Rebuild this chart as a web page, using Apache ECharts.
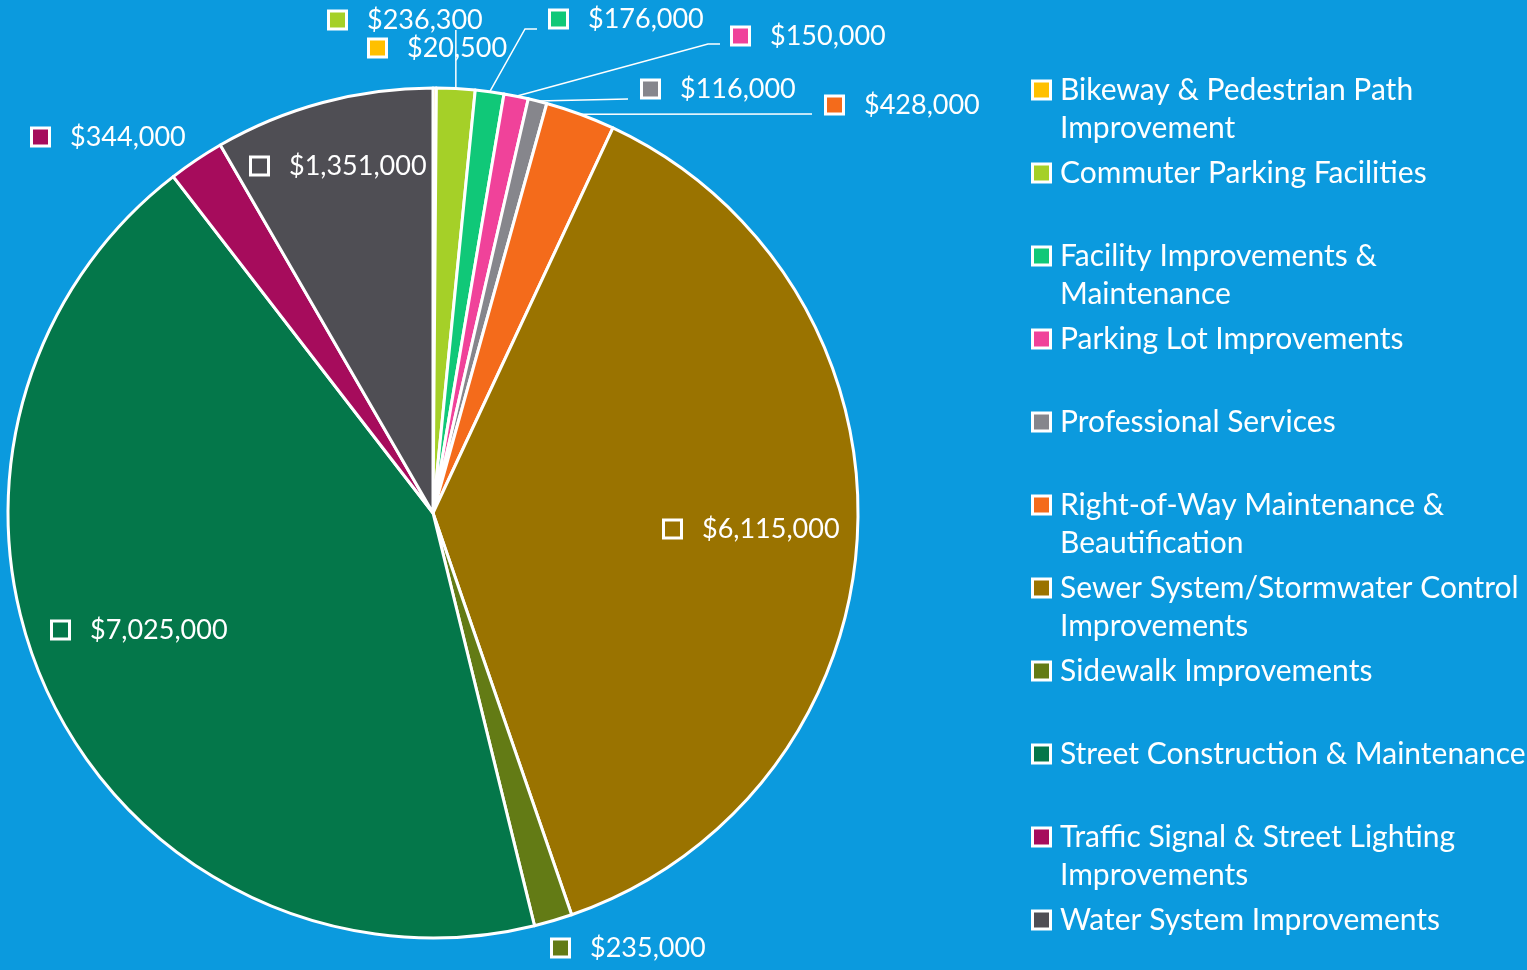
<!DOCTYPE html>
<html>
<head>
<meta charset="utf-8">
<script src="https://cdn.jsdelivr.net/npm/echarts@6/dist/echarts.min.js"></script>
<style>
  html, body { margin: 0; padding: 0; background: #0b9ade; }
  #echart { width: 1527px; height: 970px; }
</style>
</head>
<body>
<div id="echart"></div>
<script>
// chart data
var categories = [
  'Bikeway & Pedestrian Path Improvement',
  'Commuter Parking Facilities',
  'Facility Improvements & Maintenance',
  'Parking Lot Improvements',
  'Professional Services',
  'Right-of-Way Maintenance & Beautification',
  'Sewer System/Stormwater Control Improvements',
  'Sidewalk Improvements',
  'Street Construction & Maintenance',
  'Traffic Signal & Street Lighting Improvements',
  'Water System Improvements'
];
var values = [20500, 236300, 176000, 150000, 116000, 428000, 6115000, 235000, 7025000, 344000, 1351000];
// legend line breaks, as in the picture
var legendLines = [
  ['Bikeway & Pedestrian Path', 'Improvement'],
  ['Commuter Parking Facilities', ''],
  ['Facility Improvements &', 'Maintenance'],
  ['Parking Lot Improvements', ''],
  ['Professional Services', ''],
  ['Right-of-Way Maintenance &', 'Beautification'],
  ['Sewer System/Stormwater Control', 'Improvements'],
  ['Sidewalk Improvements', ''],
  ['Street Construction & Maintenance', ''],
  ['Traffic Signal & Street Lighting', 'Improvements'],
  ['Water System Improvements', '']
];

// styles
var colors = ['#ffc000', '#a5d028', '#10c878', '#f0429a', '#86868c', '#f46b1b',
              '#9a7300', '#637b15', '#04774a', '#a60c5c', '#4f4e54'];
var labelPos = [[370, 48], [330, 20], [551, 19], [733, 36], [643, 89], [827, 105],
                [665, 529], [553, 948], [53, 630], [33, 137], [252, 166]];
// leader lines: bend and end points (null = no line)
var leaders = [null, 'up', [[525, 29], [537, 29]], [[708, 44], [720, 44]],
               [[628, 99]], [[812, 114]], null, null, null, null, null];
var FONT = 'Lato';

function money(v) { return '$' + v.toLocaleString('en-US'); }

var labelRich = { v: { color: '#fff', fontSize: 27, fontFamily: FONT, padding: [0, 0, 0, 22] } };
var legendRich = {
  t: { color: '#fff', fontSize: 30, fontFamily: FONT, lineHeight: 38, height: 38 },
  ind: { width: 11, height: 16 },
  ind2: { width: 26, height: 16 }
};
colors.forEach(function (c, i) {
  labelRich['sq' + i] = { width: 15, height: 15, backgroundColor: c, borderColor: '#fff', borderWidth: 3 };
  legendRich['sq' + i] = { width: 15, height: 15, backgroundColor: c, borderColor: '#fff', borderWidth: 3 };
});

var data = categories.map(function (n, i) {
  return { name: n, value: values[i], labelLine: { show: leaders[i] != null } };
});

var echart = echarts.init(document.getElementById('echart'));
echart.setOption({
  backgroundColor: '#0b9ade',
  color: colors,
  animation: false,
  legend: {
    orient: 'vertical',
    left: 1028,
    top: 71,
    height: 895,
    padding: 0,
    itemGap: 7,
    itemWidth: 0,
    itemHeight: 0,
    icon: 'rect',
    selectedMode: false,
    data: categories,
    formatter: function (name) {
      var i = categories.indexOf(name);
      var l = legendLines[i];
      var s = '{sq' + i + '|}{ind|}{t|' + l[0] + '}';
      if (i < categories.length - 1) s += '\n{ind2|}{t|' + (l[1] || ' ') + '}';
      return s;
    },
    textStyle: { rich: legendRich }
  },
  series: [{
    type: 'pie',
    center: [433, 513],
    radius: 425,
    startAngle: 90,
    clockwise: true,
    avoidLabelOverlap: false,
    itemStyle: { borderColor: '#fff', borderWidth: 3 },
    label: {
      show: true,
      position: 'outside',
      formatter: function (p) { return '{sq' + p.dataIndex + '|}{v|' + money(p.value) + '}'; },
      rich: labelRich
    },
    labelLine: { show: false, lineStyle: { color: '#fff', width: 1.5 } },
    labelLayout: function (p) {
      var i = p.dataIndex;
      var pos = labelPos[i];
      var out = { x: pos[0], y: pos[1], align: 'left', verticalAlign: 'middle' };
      var ld = leaders[i];
      if (ld && p.labelLinePoints) {
        var s = p.labelLinePoints[0];
        if (ld === 'up') {
          out.labelLinePoints = [s, [s[0], 30], [s[0], 30]];
        } else if (ld.length === 1) {
          out.labelLinePoints = [s, ld[0], ld[0]];
        } else {
          out.labelLinePoints = [s, ld[0], ld[1]];
        }
      }
      return out;
    },
    emphasis: { disabled: true },
    data: data
  }]
});
</script>
</body>
</html>
